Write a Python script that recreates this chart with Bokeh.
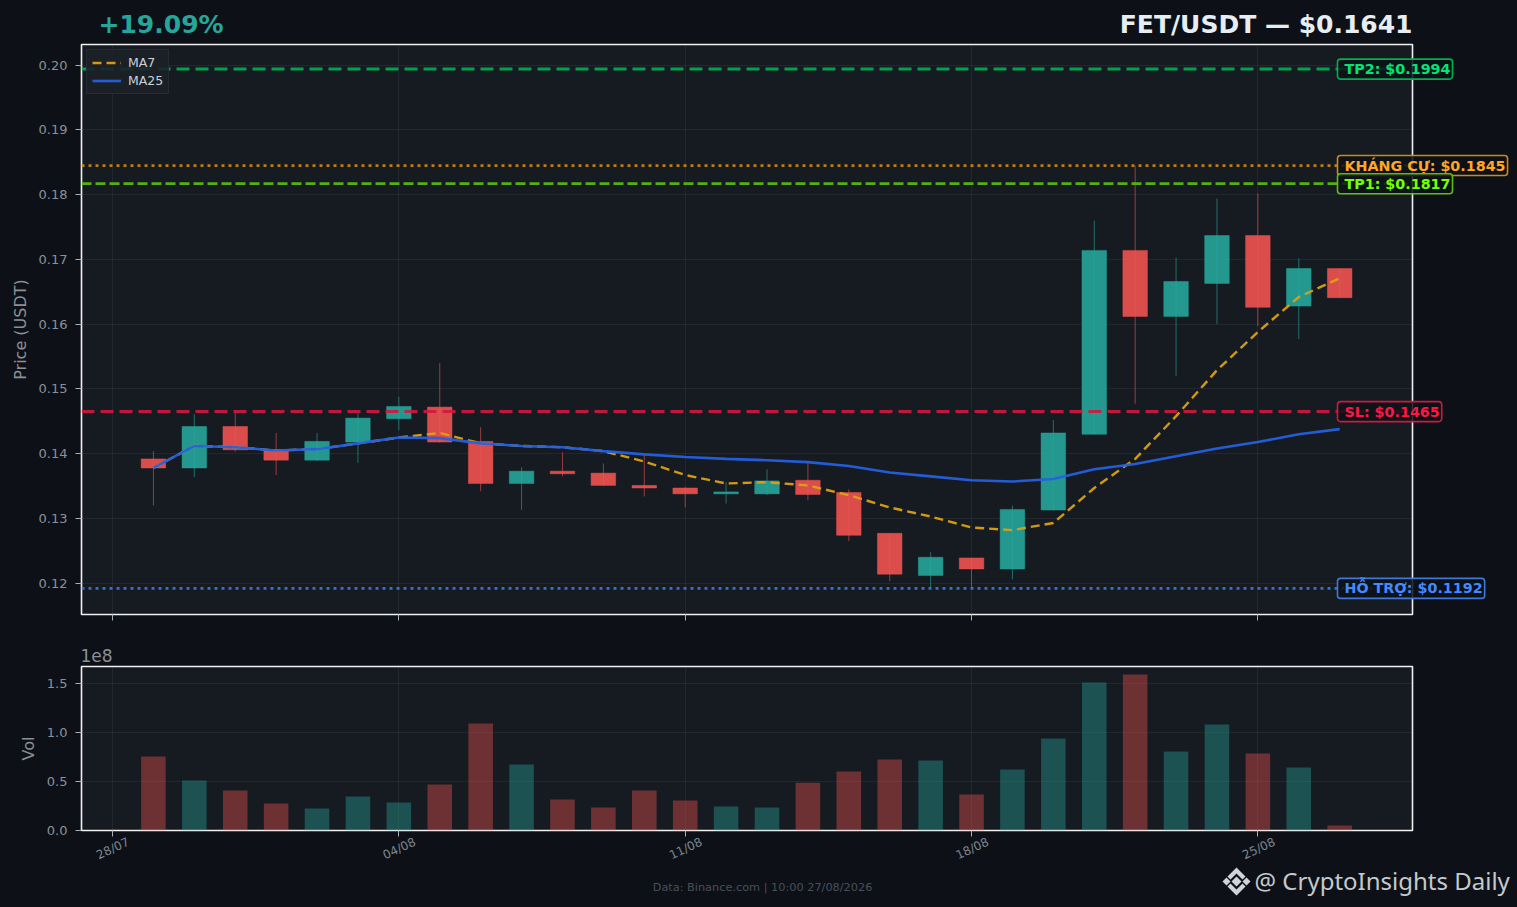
from math import radians
from bokeh.plotting import figure
from bokeh.layouts import column
from bokeh.models import Label, Span, FixedTicker, ColumnDataSource, Range1d, Legend, LegendItem
from bokeh.embed import file_html
from bokeh.resources import INLINE

# ---------- data ----------
days = list(range(1, 31))
opens = [.1392,.1378,.1442,.1406,.1390,.1418,.1454,.1472,.1419,.1354,.1373,.1370,.1351,.1347,.1338,
         .1338,.1359,.1340,.1277,.1212,.1239,.1222,.1313,.1430,.1714,.1612,.1663,.1737,.1628,.1686]
closes = [.1378,.1442,.1406,.1390,.1419,.1455,.1473,.1418,.1354,.1373,.1369,.1351,.1347,.1338,.1341,
          .1358,.1337,.1274,.1214,.1240,.1222,.1314,.1432,.1714,.1612,.1666,.1737,.1626,.1686,.1641]
highs = [.1404,.1461,.1467,.1432,.1432,.1464,.1488,.1540,.1441,.1379,.1402,.1385,.1399,.1349,.1356,
         .1376,.1387,.1345,.1277,.1248,.1239,.1320,.1452,.1760,.1845,.1703,.1794,.1802,.1702,.1686]
lows = [.1320,.1364,.1403,.1367,.1389,.1386,.1436,.1417,.1342,.1313,.1365,.1350,.1334,.1317,.1323,
        .1336,.1328,.1265,.1203,.1191,.1191,.1206,.1312,.1430,.1477,.1520,.1600,.1597,.1577,.1640]
ma25 = [.1378,.1412,.1410,.1405,.1407,.1416,.1425,.1424,.1416,.1412,.1410,.1404,.1399,.1395,.1392,
        .1390,.1387,.1381,.1371,.1365,.1359,.1357,.1361,.1376,.1384,.1396,.1408,.1418,.1430,.1438]
ma7 = [.1378,.1412,.1410,.1405,.1407,.1416,.1425,.1432,.1416,.1412,.1410,.1404,.1388,.1367,.1354,
       .1356,.1351,.1336,.1317,.1303,.1286,.1282,.1293,.1347,.1392,.1458,.1529,.1588,.1642,.1671]
volumes = [.757,.512,.41,.276,.225,.348,.287,.47,1.095,.675,.317,.235,.41,.307,.245,
           .235,.49,.604,.727,.716,.368,.624,.942,1.515,1.597,.809,1.085,.788,.645,.05]
date_ticks = [0, 7, 14, 21, 28]
date_labels = ["28/07", "04/08", "11/08", "18/08", "25/08"]
levels = [
    ("TP2: $0.1994", .1994, "#00b050", "#00e676", "13 6", 3.0),
    ("KHÁNG CỰ: $0.1845", .1845, "#d08a10", "#ffa726", "3 4", 2.8),
    ("TP1: $0.1817", .1817, "#5cc00c", "#76ff03", "10 4", 2.8),
    ("SL: $0.1465", .1465, "#d01840", "#ff1744", "13 6", 3.0),
    ("HỖ TRỢ: $0.1192", .1192, "#3f78d8", "#448aff", "3 4", 2.6),
]

# ---------- style ----------
BG, PANEL, MUTED = "#0d1117", "#161b22", "#8c9096"
GREEN, RED = "#26a69a", "#ef5350"
FONT = "DejaVu Sans"
X0, X1 = -0.758, 31.78
P1_H = 640

def py(px): return 0.20 - (px - 65.2) / 6475
def vy(px): return (830 - px) / 97.7 * 1e8
def level_px(v): return 64.7 + (0.20 - v) * 6475
def tick_px(d): return 112.3 + d * 40.93

def style(p):
    p.background_fill_color = PANEL
    p.border_fill_color = BG
    p.outline_line_color = "#f0f0f0"
    p.outline_line_width = 1.6
    p.grid.grid_line_color = "#ffffff"
    p.grid.grid_line_alpha = 0.055
    p.grid.grid_line_width = 1
    for a in (p.xaxis[0], p.yaxis[0]):
        a.axis_line_color = None
        a.major_tick_line_color = "#aab0b8"
        a.major_tick_line_width = 1
        a.major_tick_out = 6
        a.major_tick_in = 0
        a.minor_tick_line_color = None
        a.major_label_text_color = MUTED
        a.major_label_text_font = FONT
        a.axis_label_text_color = MUTED
        a.axis_label_text_font = FONT
        a.axis_label_text_font_style = "normal"
        a.axis_label_text_font_size = "16px"
    p.yaxis[0].major_label_text_font_size = "13px"
    p.yaxis[0].major_label_standoff = 8
    p.xaxis[0].ticker = FixedTicker(ticks=date_ticks)
    p.xaxis[0].major_label_overrides = dict(zip(date_ticks, date_labels))
    p.xaxis[0].major_label_text_color = None
    p.xaxis[0].major_label_text_font_size = "1px"
    p.xaxis[0].major_label_standoff = 0

# ---------- price panel ----------
p1 = figure(width=1517, height=P1_H, frame_width=1331, frame_height=570,
            min_border_left=81, min_border_right=105, min_border_top=44, min_border_bottom=26,
            x_range=Range1d(X0, X1), y_range=Range1d(py(614.5), py(44.5)),
            output_backend="svg", toolbar_location=None)
style(p1)
pt = [.12, .13, .14, .15, .16, .17, .18, .19, .20]
p1.yaxis[0].ticker = FixedTicker(ticks=pt)
p1.yaxis[0].major_label_overrides = {t: f"{t:.2f}" for t in pt}
p1.yaxis[0].axis_label = "Price (USDT)"
p1.yaxis[0].axis_label_standoff = 6

colors = [GREEN if c >= o else RED for o, c in zip(opens, closes)]
src = ColumnDataSource(dict(x=days, o=opens, c=closes, h=highs, l=lows, col=colors,
                            top=[max(a, b) for a, b in zip(opens, closes)],
                            bot=[min(a, b) for a, b in zip(opens, closes)]))
p1.segment("x", "h", "x", "l", source=src, line_color="col", line_width=1, line_alpha=0.6)
p1.vbar("x", 0.6, "top", "bot", source=src, fill_color="col", line_color="col",
        fill_alpha=0.9, line_alpha=0.9, line_width=0.5)

r7 = p1.line(days, ma7, line_color="#dca012", line_width=2.4, line_dash="9 5", line_alpha=0.95)
r25 = p1.line(days, ma25, line_color="#2460e0", line_width=2.6, line_alpha=0.95)

for text, level, line_col, text_col, dash, lw in levels:
    p1.add_layout(Span(location=level, dimension="width", line_color=line_col, line_dash=dash,
                       line_width=lw, line_alpha=0.9))

legend = Legend(items=[LegendItem(label="MA7", renderers=[r7]), LegendItem(label="MA25", renderers=[r25])],
                location="top_left", margin=5, padding=5, spacing=3,
                label_text_font=FONT, label_text_font_size="12.5px", label_text_color="#c9d1d9",
                label_height=15, glyph_height=15, glyph_width=29, label_standoff=7,
                background_fill_color="#1c2128", background_fill_alpha=0.9,
                border_line_color="#30363d", border_line_width=1.4)
p1.add_layout(legend)

# ---------- volume panel ----------
p2 = figure(width=1517, height=907 - P1_H, frame_width=1331, frame_height=164,
            min_border_left=81, min_border_right=105, min_border_top=26, min_border_bottom=77,
            x_range=p1.x_range, y_range=Range1d(0, vy(666)),
            output_backend="svg", toolbar_location=None)
style(p2)
p2.yaxis[0].ticker = FixedTicker(ticks=[0, 0.5e8, 1e8, 1.5e8])
p2.yaxis[0].major_label_overrides = {0: "0.0", 50000000: "0.5", 100000000: "1.0", 150000000: "1.5"}
p2.yaxis[0].axis_label = "Vol"
p2.yaxis[0].axis_label_standoff = 6
p2.vbar(days, 0.6, [v * 1e8 for v in volumes], 0, fill_color=colors, fill_alpha=0.4, line_color=None)

# ---------- transparent page-sized layer: texts that sit across and outside the frames ----------
p3 = figure(width=1517, height=907, x_range=Range1d(0, 1517), y_range=Range1d(907, 0),
            x_axis_location=None, y_axis_location=None, min_border=0,
            output_backend="svg", toolbar_location=None, css_classes=["page-layer"],
            styles={"position": "absolute", "top": "0", "left": "0", "pointer-events": "none"})
p3.grid.visible = False
p3.outline_line_color = None
p3.background_fill_alpha = 0
p3.border_fill_alpha = 0

def text_at(sx, sy, text, color, size, font=FONT, bold=False, align="left", angle=0.0, **kw):
    p3.add_layout(Label(x=sx, y=sy, text=text, text_color=color,
                        text_font=font, text_font_size=size, text_font_style="bold" if bold else "normal",
                        text_baseline="middle", text_align=align, angle=angle, **kw))

for text, level, line_col, text_col, dash, lw in levels:
    text_at(1337, level_px(level), text, text_col, "14.3px", bold=True, padding=(7, 2, 2, 2), border_radius=3,
            background_fill_color=BG, background_fill_alpha=0.85,
            border_line_color=line_col, border_line_width=1.6)

text_at(98, 24, "+19.09%", GREEN, "25px", bold=True)
text_at(1412, 24, "FET/USDT — $0.1641", "#e6edf3", "25px", bold=True, align="right")
for d, lab in zip(date_ticks, date_labels):
    text_at(tick_px(d), 848, lab, "#7d8590", "12px", align="center", angle=radians(25))
text_at(80, 655, "1e8", MUTED, "17px")
text_at(762, 887, "Data: Binance.com | 10:00 27/08/2026", "#484f58", "11.3px", align="center")
text_at(1254, 880, "@ CryptoInsights Daily", "#c4c9ce", "24px", font="Noto Sans")

CX, CY = 1236, 881
shapes = [
    [(0, -5), (5, 0), (0, 5), (-5, 0)],
    [(-14, 0), (-10, -4), (-6, 0), (-10, 4)],
    [(14, 0), (10, -4), (6, 0), (10, 4)],
    [(0, -14), (9, -5), (6, -2), (0, -8), (-6, -2), (-9, -5)],
    [(0, 14), (9, 5), (6, 2), (0, 8), (-6, 2), (-9, 5)],
]
p3.patches([[CX + a for a, b in sh] for sh in shapes], [[CY + b for a, b in sh] for sh in shapes],
           fill_color="#d0d4d8", line_color=None)

css = (f"<style>html,body{{background:{BG};overflow:hidden;}}"
       ".page-layer{position:absolute!important;top:0;left:0;z-index:10;pointer-events:none;}</style>")
open("out.html", "w").write(file_html([column(p1, p2, spacing=0), p3], INLINE).replace("<head>", "<head>" + css, 1))
